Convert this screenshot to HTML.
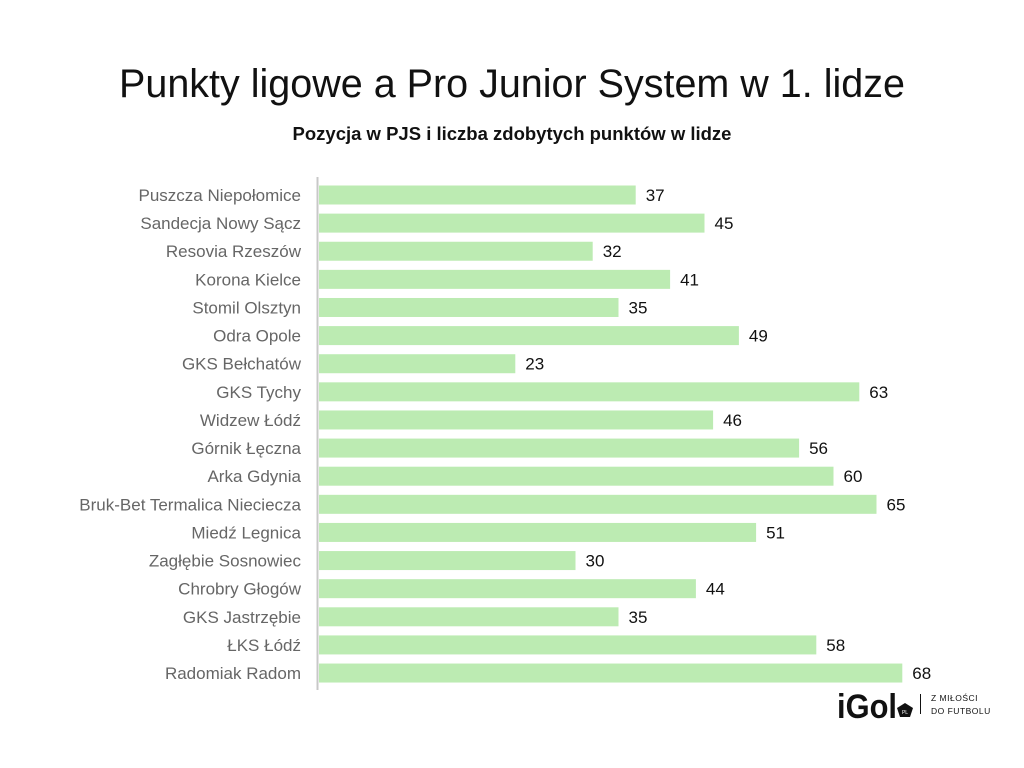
<!DOCTYPE html>
<html><head><meta charset="utf-8"><style>
body{margin:0;background:#fff;}
svg{display:block;font-family:"Liberation Sans",sans-serif;}
</style></head><body>
<svg width="1024" height="768" viewBox="0 0 1024 768">
<text x="512" y="97" text-anchor="middle" font-size="39.5" fill="#111">Punkty ligowe a Pro Junior System w 1. lidze</text>
<text x="512" y="140" text-anchor="middle" font-size="18.5" font-weight="bold" fill="#111">Pozycja w PJS i liczba zdobytych punktów w lidze</text>
<rect x="316.5" y="177" width="2" height="513" fill="#c8c8c8"/>
<g id="bars" font-size="17"></g>
<text x="837" y="718" font-size="34" font-weight="bold" fill="#111" textLength="60" lengthAdjust="spacingAndGlyphs">iGol</text>
<path d="M905 703 l8 5 -3 9 h-10 l-3 -9z" fill="#111"/>
<text x="905" y="714" font-size="5" fill="#fff" text-anchor="middle">PL</text>
<rect x="920" y="694" width="1" height="20" fill="#111"/>
<text x="931" y="701" font-size="8.5" fill="#111" letter-spacing="0.5">Z MIŁOŚCI</text>
<text x="931" y="714" font-size="8.5" fill="#111" letter-spacing="0.5">DO FUTBOLU</text>
</svg>
<script>
var d=[["Puszcza Niepołomice",37],["Sandecja Nowy Sącz",45],["Resovia Rzeszów",32],["Korona Kielce",41],["Stomil Olsztyn",35],["Odra Opole",49],["GKS Bełchatów",23],["GKS Tychy",63],["Widzew Łódź",46],["Górnik Łęczna",56],["Arka Gdynia",60],["Bruk-Bet Termalica Nieciecza",65],["Miedź Legnica",51],["Zagłębie Sosnowiec",30],["Chrobry Głogów",44],["GKS Jastrzębie",35],["ŁKS Łódź",58],["Radomiak Radom",68]];
var g=document.getElementById('bars'),s='';
d.forEach(function(r,i){var c=195+i*28.12,w=r[1]*8.6-1.5;
s+='<rect x="319" y="'+(c-9.5)+'" width="'+w+'" height="19" fill="#bcebb2"/>';
s+='<text x="301" y="'+(c+6)+'" text-anchor="end" fill="#666" textLength="'+(r[0].length*0)+'">'.replace(' textLength="0"','')+r[0]+'</text>';
s+='<text x="'+(319+w+10)+'" y="'+(c+6)+'" fill="#111">'+r[1]+'</text>';});
g.innerHTML=s;
</script>
</body></html>
